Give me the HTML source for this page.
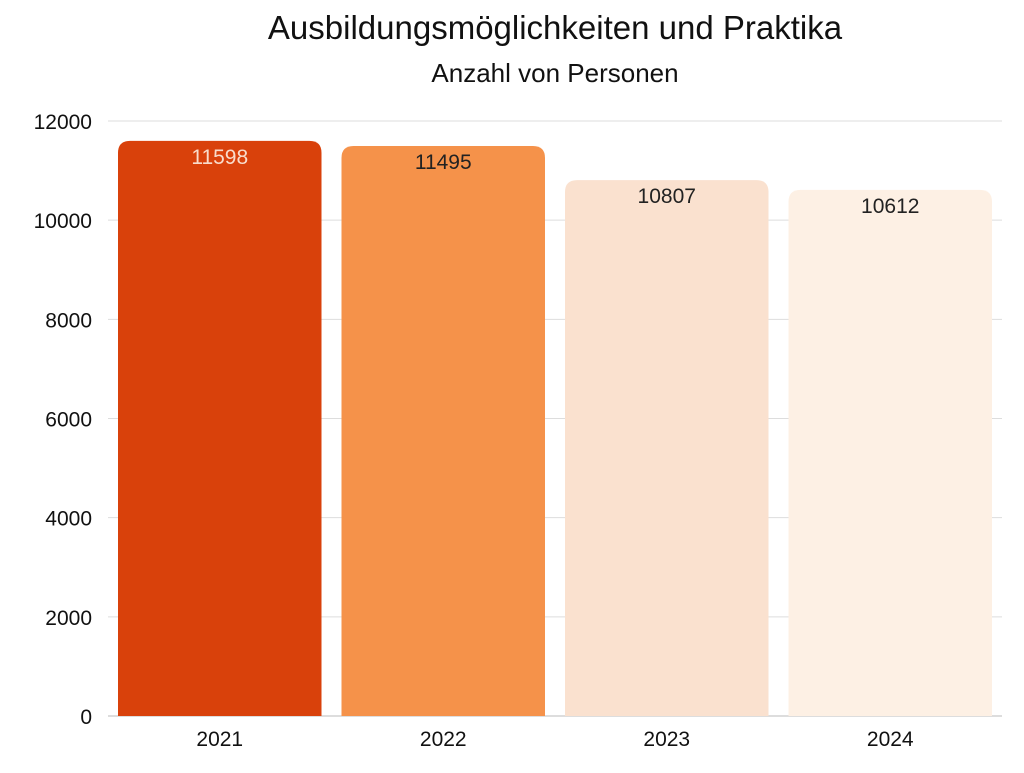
<!DOCTYPE html>
<html><head><meta charset="utf-8"><style>
body{margin:0;background:#fff;font-family:"Liberation Sans",sans-serif;}
svg text{font-family:"Liberation Sans",sans-serif;}
</style></head><body>
<svg id="chart" width="1024" height="768" xmlns="http://www.w3.org/2000/svg">
<text x="555" y="39" text-anchor="middle" font-size="33" fill="#111">Ausbildungsmöglichkeiten und Praktika</text>
<text x="555" y="82" text-anchor="middle" font-size="26" fill="#111">Anzahl von Personen</text>
<g id="grid"></g><g id="bars"></g><g id="labels"></g>
</svg>
<script>
const categories=["2021","2022","2023","2024"];
const values=[11598,11495,10807,10612];
const yTicks=[0,2000,4000,6000,8000,10000,12000];
const colors=["#D9410B","#F5924A","#FAE1CF","#FDF0E4"];
const labelColors=["#F9DCCB","#222","#222","#222"];
const NS="http://www.w3.org/2000/svg";
const x0=108,x1=1002,yBase=716,yTop=121,yMax=12000;
const y=v=>yBase-(v/yMax)*(yBase-yTop);
const band=(x1-x0)/categories.length,pad=10;
const xb=i=>x0+i*band+pad;
const bw=band-2*pad;
function mk(t,a,p){const e=document.createElementNS(NS,t);for(const k in a)e.setAttribute(k,a[k]);p.appendChild(e);return e;}
const g=document.getElementById('grid'),b=document.getElementById('bars'),l=document.getElementById('labels');
yTicks.forEach(t=>{
 const ln=mk('line',{x1:x0,x2:x1,y1:y(t),y2:y(t),stroke:t===0?'#bbb':'#ddd','stroke-width':1},g);
 
 
 const tx=mk('text',{x:92,y:y(t)+8,'text-anchor':'end','font-size':21,fill:'#111'},g);
 tx.textContent=t;
 
 
});
categories.forEach((c,i)=>{
 const top=y(values[i]),r=12,x=xb(i);
 const p=mk('path',{d:`M${x},${yBase}V${top+r}Q${x},${top} ${x+r},${top}H${x+bw-r}Q${x+bw},${top} ${x+bw},${top+r}V${yBase}Z`,fill:colors[i]},b);
 
 
 const v=mk('text',{x:x+bw/2,y:top+23,'text-anchor':'middle','font-size':21,fill:labelColors[i]},l);
 v.textContent=values[i];
 
 
 const t=mk('text',{x:x+bw/2,y:746,'text-anchor':'middle','font-size':21,fill:'#111'},l);
 t.textContent=c;
 
 
});
</script>
</body></html>
